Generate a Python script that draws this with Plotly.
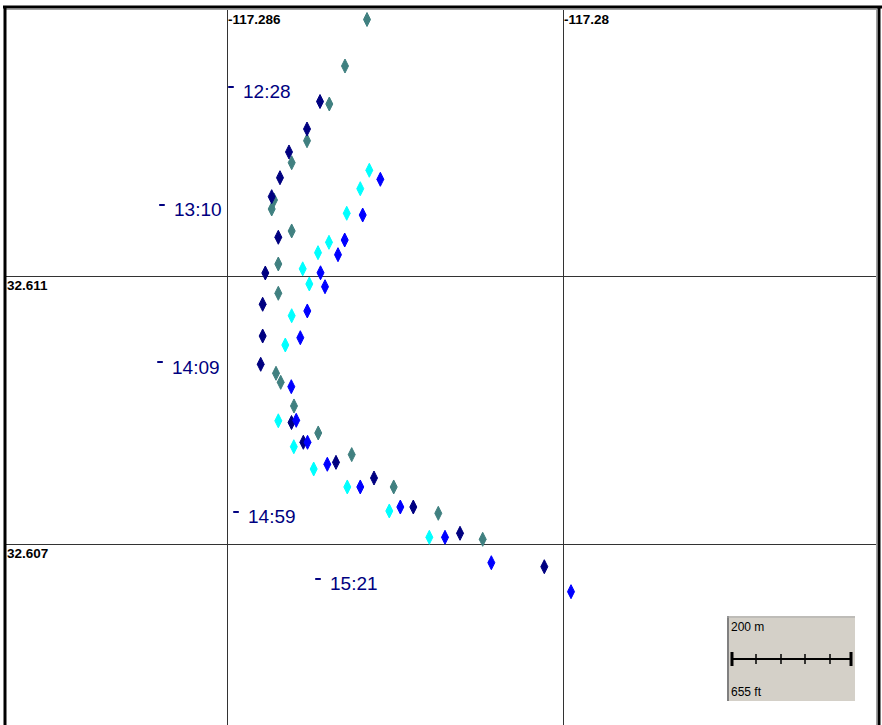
import plotly.graph_objects as go

W, H = 882, 725

# ---- data (lon / lat of GPS fixes, four tracks) ----
navy_lon = [-117.284339, -117.284571, -117.284893, -117.285054, -117.285202, -117.285084,
            -117.285316, -117.285363, -117.285363, -117.285398, -117.284848, -117.284637,
            -117.284054, -117.283375, -117.282673, -117.281839, -117.280334]
navy_lat = [32.613604, 32.613194, 32.612851, 32.612467, 32.612184, 32.611578,
            32.611045, 32.610578, 32.610104, 32.609682, 32.608813, 32.608518,
            32.608219, 32.607985, 32.607552, 32.607160, 32.606661]

teal_lon = [-117.283500, -117.283893, -117.284173, -117.284571, -117.284845, -117.285161,
            -117.285202, -117.284845, -117.285084, -117.285084, -117.285125, -117.285041,
            -117.284804, -117.284371, -117.283773, -117.283023, -117.282227, -117.281434]
teal_lat = [32.614828, 32.614134, 32.613567, 32.613019, 32.612691, 32.612134,
            32.612000, 32.611672, 32.611179, 32.610742, 32.609548, 32.609413,
            32.609060, 32.608657, 32.608334, 32.607851, 32.607458, 32.607070]

cyan_lon = [-117.283459, -117.283620, -117.283862, -117.284179, -117.284375, -117.284648,
            -117.284530, -117.284845, -117.284959, -117.285084, -117.284807, -117.284452,
            -117.283852, -117.283102, -117.282387]
cyan_lat = [32.612578, 32.612303, 32.611936, 32.611503, 32.611348, 32.611107,
            32.610881, 32.610407, 32.609970, 32.608839, 32.608452, 32.608119,
            32.607851, 32.607493, 32.607100]

blue_lon = [-117.283262, -117.283577, -117.283898, -117.284018, -117.284330, -117.284250,
            -117.284566, -117.284691, -117.284852, -117.284764, -117.284562, -117.284209,
            -117.283620, -117.282905, -117.282107, -117.281280, -117.279857]
blue_lat = [32.612443, 32.611910, 32.611537, 32.611318, 32.611048, 32.610840,
            32.610478, 32.610079, 32.609348, 32.608846, 32.608518, 32.608190,
            32.607851, 32.607552, 32.607100, 32.606721, 32.606288]

# time labels
time_labels = ["12:28", "13:10", "14:09", "14:59", "15:21"]
time_lon = [-117.285929, -117.287161, -117.287196, -117.285839, -117.284375]
time_lat = [32.613821, 32.612060, 32.609716, 32.607478, 32.606478]

# grid ticks
lon_ticks = [-117.286, -117.28]
lon_tick_text = ["-117.286", "-117.28"]
lat_ticks = [32.611, 32.607]
lat_tick_text = ["32.611", "32.607"]

scale_top_text = "200 m"
scale_bottom_text = "655 ft"

x_range = [-117.2899464, -117.2743929]
y_range = [32.6042985, 32.6149851]

NAVY = "#000080"
TEAL = "#408080"
CYAN = "#00FFFF"
BLUE = "#0000FF"


def pxx(x):
    return x / W


def pxy(y):
    return 1 - y / H


fig = go.Figure()

for lon, lat, col in [(teal_lon, teal_lat, TEAL), (navy_lon, navy_lat, NAVY),
                      (cyan_lon, cyan_lat, CYAN), (blue_lon, blue_lat, BLUE)]:
    fig.add_trace(go.Scatter(
        x=lon, y=lat, mode="markers",
        marker=dict(symbol="diamond-tall", size=10, color=col,
                    line=dict(color=col, width=1)),
        hoverinfo="skip", showlegend=False))

# time label dashes
fig.add_trace(go.Scatter(
    x=time_lon, y=time_lat, mode="markers",
    marker=dict(symbol="line-ew", size=4, line=dict(color=NAVY, width=2)),
    hoverinfo="skip", showlegend=False))

annotations = []
for t, lo, la in zip(time_labels, time_lon, time_lat):
    annotations.append(dict(x=lo, y=la, xref="x", yref="y", text=t, showarrow=False,
                            xanchor="left", yanchor="middle", xshift=10, yshift=-5,
                            font=dict(family="Liberation Sans, Arial", size=19, color=NAVY)))

for v, t in zip(lon_ticks, lon_tick_text):
    annotations.append(dict(x=v, y=pxy(10), xref="x", yref="paper", text="<b>%s</b>" % t,
                            showarrow=False, xanchor="left", yanchor="top", xshift=-1,
                            font=dict(family="Liberation Sans, Arial", size=13.5, color="#000000")))
for v, t in zip(lat_ticks, lat_tick_text):
    annotations.append(dict(x=pxx(5), y=v, xref="paper", yref="y", text="<b>%s</b>" % t,
                            showarrow=False, xanchor="left", yanchor="top", yshift=0,
                            font=dict(family="Liberation Sans, Arial", size=13.5, color="#000000")))

annotations.append(dict(x=pxx(729), y=pxy(627), xref="paper", yref="paper", text=scale_top_text,
                        showarrow=False, xanchor="left", yanchor="middle",
                        font=dict(family="Liberation Sans, Arial", size=12, color="#000000")))
annotations.append(dict(x=pxx(729), y=pxy(692), xref="paper", yref="paper", text=scale_bottom_text,
                        showarrow=False, xanchor="left", yanchor="middle",
                        font=dict(family="Liberation Sans, Arial", size=12, color="#000000")))

shapes = []


def pline(x0, y0, x1, y1, color, width):
    shapes.append(dict(type="line", xref="paper", yref="paper",
                       x0=pxx(x0), y0=pxy(y0), x1=pxx(x1), y1=pxy(y1),
                       line=dict(color=color, width=width), layer="above"))


# frame
pline(3, 7, 882, 7, "#000000", 3)
pline(6, 9.5, 877, 9.5, "#A0A0A0", 1)
pline(5, 6, 5, 725, "#000000", 3)
pline(876.5, 9, 876.5, 725, "#A0A0A0", 1)
pline(879, 6, 879, 725, "#000000", 3)

# scale bar box
shapes.append(dict(type="rect", xref="paper", yref="paper",
                   x0=pxx(727), x1=pxx(855), y0=pxy(616), y1=pxy(701),
                   fillcolor="#D4D0C8", line=dict(width=0), layer="above"))
pline(728, 616, 728, 701, "#808080", 2)
pline(727, 617, 855, 617, "#A8A8A8", 1)
pline(731, 659, 852, 659, "#000000", 2)
pline(732, 652, 732, 666, "#000000", 3)
pline(851, 652, 851, 666, "#000000", 3)
for tx in [756, 781, 805, 830]:
    pline(tx, 654, tx, 664, "#000000", 1.5)

fig.update_layout(
    width=W, height=H,
    margin=dict(l=0, r=0, t=0, b=0),
    paper_bgcolor="#FFFFFF", plot_bgcolor="#FFFFFF",
    xaxis=dict(domain=[6 / W, 877 / W], range=x_range, tickvals=lon_ticks,
               showticklabels=False, showgrid=True,
               gridcolor="#333333", gridwidth=1, zeroline=False, showline=False,
               ticks="", fixedrange=True),
    yaxis=dict(domain=[0, 1 - 9 / H], range=y_range, tickvals=lat_ticks,
               showticklabels=False, showgrid=True,
               gridcolor="#333333", gridwidth=1, zeroline=False, showline=False,
               ticks="", fixedrange=True),
    annotations=annotations,
    shapes=shapes,
    showlegend=False,
)

fig.write_html("out.html", config={"displayModeBar": False},
               post_script="document.body.style.margin='0';document.body.style.overflow='hidden';")
